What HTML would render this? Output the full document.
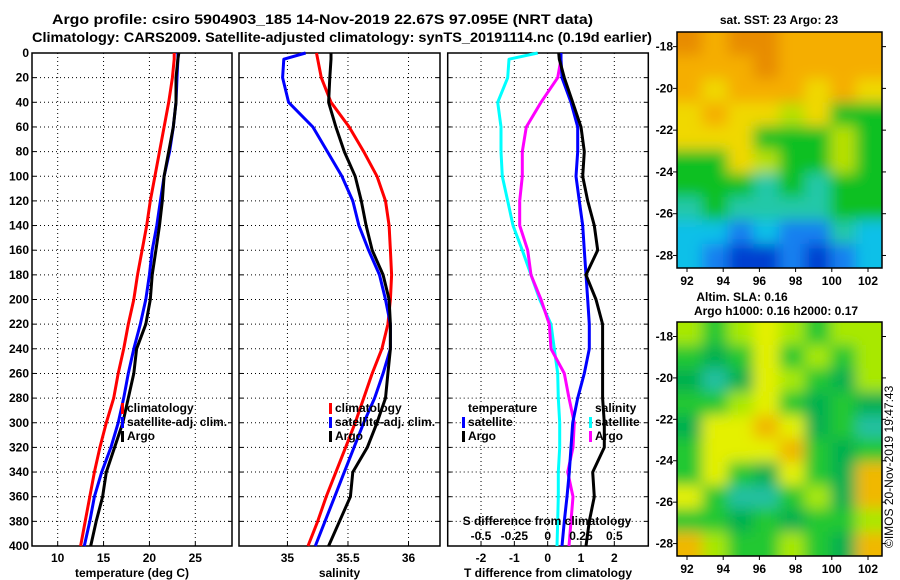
<!DOCTYPE html>
<html><head><meta charset="utf-8">
<style>
html,body{margin:0;padding:0;background:#fff;}
svg{display:block;font-family:"Liberation Sans",sans-serif;}
.b{font-weight:bold;font-size:12px;}
</style></head>
<body>
<svg id="chart" width="900" height="580" viewBox="0 0 900 580" xmlns="http://www.w3.org/2000/svg">
<defs>
<filter id="blur" filterUnits="userSpaceOnUse" x="600" y="0" width="300" height="580"><feGaussianBlur stdDeviation="7"/></filter>
<clipPath id="clip1"><rect x="677" y="32" width="205" height="236"/></clipPath>
<clipPath id="clip2"><rect x="677" y="322" width="205" height="234"/></clipPath>
</defs>
<text x="52" y="24" font-size="14" font-weight="bold" textLength="541" lengthAdjust="spacingAndGlyphs">Argo profile: csiro 5904903_185 14-Nov-2019 22.67S 97.095E (NRT data)</text>
<text x="32" y="42" font-size="14" font-weight="bold" textLength="620" lengthAdjust="spacingAndGlyphs">Climatology: CARS2009. Satellite-adjusted climatology: synTS_20191114.nc (0.19d earlier)</text>
<g id="plots"></g>
<g id="maps"></g>
<text class="b" x="779" y="24" text-anchor="middle">sat. SST: 23 Argo: 23</text>
<text class="b" x="742" y="301" text-anchor="middle">Altim. SLA: 0.16</text>
<text class="b" x="776" y="315" text-anchor="middle">Argo h1000: 0.16 h2000: 0.17</text>
<text font-size="12" transform="translate(893,548) rotate(-90)">©IMOS 20-Nov-2019 19:47:43</text>
</svg>
<script>
// ---- data ----
const depths = [0,5,20,40,60,80,100,120,140,160,180,200,220,240,260,280,300,320,340,360,380,400];
const depthTicks = [0,20,40,60,80,100,120,140,160,180,200,220,240,260,280,300,320,340,360,380,400];
const tempTicks = [10,15,20,25];
const salTicks = [35,35.5,36];
const tdiffTicks = [-2,-1,0,1,2];
const sdiffTicks = [-0.5,-0.25,0,0.25,0.5];
const sdiffTickLabels = ["-0.5","-0.25","0","0.25","0.5"];
const tempClim = [22.7,22.7,22.5,22.1,21.6,21.1,20.6,20.1,19.7,19.2,18.7,18.3,17.7,17.2,16.6,16.1,15.3,14.6,14.0,13.5,13.0,12.5];
const tempSat  = [23.1,23.1,23.0,22.9,22.6,22.2,21.6,21.2,20.8,20.3,20.0,19.6,19.0,18.3,17.7,17.2,16.6,15.8,14.8,14.0,13.5,12.9];
const tempArgo = [23.2,23.1,22.9,22.9,22.6,22.1,21.6,21.4,21.1,20.7,20.3,20.1,19.6,18.6,18.3,17.7,17.1,16.2,15.3,14.9,14.2,13.6];
const salClim = [35.24,35.25,35.28,35.36,35.51,35.63,35.74,35.81,35.84,35.85,35.86,35.85,35.83,35.78,35.70,35.63,35.56,35.48,35.40,35.32,35.25,35.17];
const salSat  = [35.15,34.97,34.96,35.01,35.21,35.33,35.45,35.54,35.59,35.67,35.76,35.81,35.85,35.85,35.79,35.72,35.63,35.55,35.47,35.39,35.31,35.23];
const salArgo = [35.36,35.36,35.35,35.34,35.40,35.47,35.56,35.61,35.65,35.70,35.79,35.84,35.85,35.85,35.83,35.81,35.74,35.66,35.54,35.52,35.43,35.34];
const tdiffSat  = [0.4,0.4,0.43,0.7,0.9,0.9,0.85,0.95,1.05,1.1,1.15,1.2,1.25,1.25,1.1,0.9,0.75,0.7,0.65,0.58,0.5,0.43];
const tdiffArgo = [0.33,0.35,0.5,0.75,1.0,1.1,1.05,1.2,1.4,1.5,1.15,1.45,1.65,1.65,1.65,1.65,1.7,1.7,1.35,1.4,1.25,1.15];
const sdiffSat  = [-0.075,-0.29,-0.3,-0.375,-0.35,-0.35,-0.34,-0.3,-0.26,-0.19,-0.125,-0.06,0.025,0.05,0.075,0.08,0.09,0.09,0.08,0.08,0.075,0.07];
const sdiffArgo = [0.1,0.1,0.075,-0.05,-0.16,-0.19,-0.19,-0.21,-0.21,-0.15,-0.125,-0.05,0.0125,0.025,0.125,0.16,0.2,0.19,0.15,0.19,0.175,0.16];
const lonTicks = [92,94,96,98,100,102];
const latTicks = [-18,-20,-22,-24,-26,-28];
const sstGrid = ["OoOOoooo","oooOoooo","oYoooYoY","YoYYyYGG","YYYGGGyG","GGYyGGyG","GGGCGCGG","CGCCCCGG","ccBcBBCc","cBDDBDBc"];
const slaGrid = ["yGyYyGyy","GgGYGyGy","gCgYyGgy","GGyYGgGg","gYYOYgGC","GYYYOGgG","GYGgYGgO","YGCCGygO","GGgGgGGy","OyGGyGgO"];

const NS="http://www.w3.org/2000/svg";
function mk(tag, attrs, parent){const e=document.createElementNS(NS,tag);for(const k in attrs)e.setAttribute(k,attrs[k]);parent.appendChild(e);return e;}
const plots=document.getElementById('plots');
const Y0=53, Y1=546;
function yD(d){return Y0+(d/400)*(Y1-Y0);}

function panel(name, x0, x1, vmin, vmax, ticks, tickLabels, xlabel, showY){
  const sx=v=>x0+(v-vmin)/(vmax-vmin)*(x1-x0);
  const g=mk('g',{},plots);
  
  
  depthTicks.forEach(d=>{
    const y=yD(d);
    if(d>0&&d<400){const l=mk('line',{x1:x0,x2:x1,y1:y,y2:y,stroke:'#000','stroke-width':1,'stroke-dasharray':'1,3'},g);
      
      }
    mk('line',{x1:x0,x2:x0+4,y1:y,y2:y,stroke:'#000'},g);
    mk('line',{x1:x1-4,x2:x1,y1:y,y2:y,stroke:'#000'},g);
    if(showY){const t=mk('text',{x:x0-3,y:y+4,'text-anchor':'end',class:'b'},g);t.textContent=d;
      
      }
  });
  ticks.forEach((v,i)=>{
    const x=sx(v);
    const l=mk('line',{x1:x,x2:x,y1:Y0,y2:Y1,stroke:'#000','stroke-dasharray':'1,3'},g);
    
    
    mk('line',{x1:x,x2:x,y1:Y1-4,y2:Y1,stroke:'#000'},g);
    const t=mk('text',{x:x,y:562,'text-anchor':'middle',class:'b'},g);t.textContent=tickLabels?tickLabels[i]:v;
    
    
  });
  const f=mk('rect',{x:x0,y:Y0,width:x1-x0,height:Y1-Y0,fill:'none',stroke:'#000','stroke-width':1.5},g);
  
  
  const t=mk('text',{x:(x0+x1)/2,y:577,'text-anchor':'middle',class:'b'},g);t.textContent=xlabel;
  
  
  return {g,sx};
}
function series(p, vals, color, name, scale){
  const pts=vals.map((v,i)=>p.sx(v*(scale||1)).toFixed(1)+','+yD(depths[i]).toFixed(1)).join(' ');
  const l=mk('polyline',{points:pts,fill:'none',stroke:color,'stroke-width':3,'stroke-linejoin':'round'},p.g);
  
  
}
function legendRow(g,x,y,color,label,name){
  if(color){mk('rect',{x:x-6,y:y-9,width:3,height:11,fill:color},g);}
  const t=mk('text',{x:x,y:y,class:'b'},g);t.textContent=label;
  
  
}

const p1=panel('temperature',32,232,7.2,29,tempTicks,null,'temperature (deg C)',true);
series(p1,tempClim,'#f00','temperature-climatology-line');
series(p1,tempSat,'#00f','temperature-satellite-line');
series(p1,tempArgo,'#000','temperature-argo-line');
legendRow(p1.g,127,412,'#f00','climatology','legend-climatology');
legendRow(p1.g,127,426,'#00f','satellite-adj. clim.','legend-satellite-adj');
legendRow(p1.g,127,440,'#000','Argo','legend-argo');

const p2=panel('salinity',239,440,34.6,36.26,salTicks,null,'salinity',false);
series(p2,salClim,'#f00','salinity-climatology-line');
series(p2,salSat,'#00f','salinity-satellite-line');
series(p2,salArgo,'#000','salinity-argo-line');
legendRow(p2.g,335,412,'#f00','climatology','legend-climatology');
legendRow(p2.g,335,426,'#00f','satellite-adj. clim.','legend-satellite-adj');
legendRow(p2.g,335,440,'#000','Argo','legend-argo');

const p3=panel('difference',447.7,648.3,-3,3.02,tdiffTicks,null,'T difference from climatology',false);
series(p3,sdiffSat,'#0ff','salinity-diff-satellite-line',4);
series(p3,sdiffArgo,'#f0f','salinity-diff-argo-line',4);
series(p3,tdiffSat,'#00f','temperature-diff-satellite-line');
series(p3,tdiffArgo,'#000','temperature-diff-argo-line');
legendRow(p3.g,468,412,null,'temperature','legend-temperature-header');
legendRow(p3.g,468,426,'#00f','satellite','legend-temp-satellite');
legendRow(p3.g,468,440,'#000','Argo','legend-temp-argo');
legendRow(p3.g,595,412,null,'salinity','legend-salinity-header');
legendRow(p3.g,595,426,'#0ff','satellite','legend-sal-satellite');
legendRow(p3.g,595,440,'#f0f','Argo','legend-sal-argo');
{const t=mk('text',{x:547,y:525,'text-anchor':'middle',class:'b'},p3.g);t.textContent='S difference from climatology';
 
 
 sdiffTicks.forEach((v,i)=>{const tt=mk('text',{x:p3.sx(v*4),y:540,'text-anchor':'middle',class:'b'},p3.g);tt.textContent=sdiffTickLabels[i];
  
  });}

// ---- maps ----
const colors1={O:'#e88c00',o:'#f5ae00',Y:'#f0d800',y:'#b8e000',G:'#10c020',g:'#00b048',C:'#20c8a8',c:'#10c0e8',B:'#1480f0',D:'#0040d0'};
const colors2={O:'#f0b800',o:'#f5ae00',Y:'#e4f000',y:'#a8e800',G:'#20c830',g:'#00b050',C:'#20c0a0',c:'#10c0e8',B:'#1480f0',D:'#0040d0'};
const maps=document.getElementById('maps');
function drawMap(name,grid,cols,mx0,my0,mw,mh,clip){
  const g=mk('g',{'clip-path':'url(#'+clip+')'},maps);
  
  
  const inner=mk('g',{filter:'url(#blur)'},g);
  const nr=grid.length,nc=grid[0].length,cw=mw/nc,ch=mh/nr;
  for(let r=0;r<nr;r++)for(let c=0;c<nc;c++){
    let x=mx0+c*cw, y=my0+r*ch, w=cw, h=ch;
    if(c===0){x-=20;w+=20;} if(c===nc-1){w+=20;}
    if(r===0){y-=20;h+=20;} if(r===nr-1){h+=20;}
    mk('rect',{x:x-0.5,y:y-0.5,width:w+1,height:h+1,fill:cols[grid[r][c]]},inner);
  }
  const f=mk('rect',{x:mx0,y:my0,width:mw,height:mh,fill:'none',stroke:'#000','stroke-width':1.5},maps);
  
  
  const lx=v=>687+(v-92)*(868-687)/10;
  const ly=v=>my0+(-17.3-v)/11.3*mh;
  lonTicks.forEach(v=>{const x=lx(v);mk('line',{x1:x,x2:x,y1:my0+mh,y2:my0+mh+4,stroke:'#000'},maps);
    const t=mk('text',{x:x,y:my0+mh+17,'text-anchor':'middle',class:'b'},maps);t.textContent=v;
    
    });
  latTicks.forEach(v=>{const y=ly(v);mk('line',{x1:mx0-4,x2:mx0,y1:y,y2:y,stroke:'#000'},maps);
    mk('line',{x1:mx0+mw,x2:mx0+mw+4,y1:y,y2:y,stroke:'#000'},maps);
    const t=mk('text',{x:mx0-4,y:y+4,'text-anchor':'end',class:'b'},maps);t.textContent=v;
    
    });
}
drawMap('sst-map',sstGrid,colors1,677,32,205,236,'clip1');
drawMap('sla-map',slaGrid,colors2,677,322,205,234,'clip2');
</script>
</body></html>
